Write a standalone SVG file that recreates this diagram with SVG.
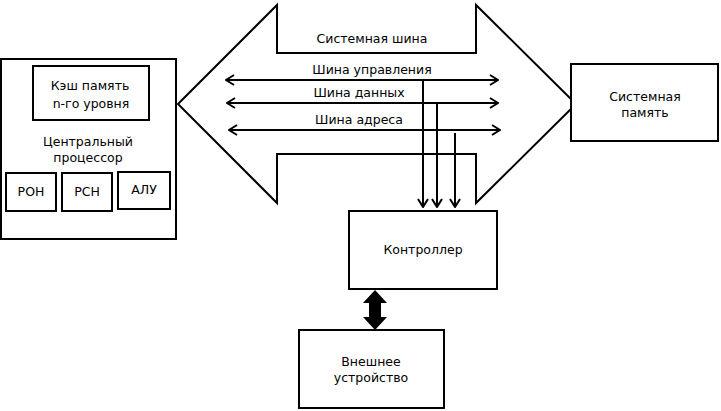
<svg xmlns="http://www.w3.org/2000/svg" width="721" height="411" viewBox="0 0 721 411">
<style>
.box{fill:#fff;stroke:#000;stroke-width:2}
.ln{fill:none;stroke:#000;stroke-width:2}
text{font-family:"DejaVu Sans","Liberation Sans",sans-serif;font-size:12.5px;fill:#000;text-anchor:middle}
</style>
<defs>
<marker id="v" viewBox="0 0 10 12" refX="9" refY="6" markerWidth="10" markerHeight="12" markerUnits="userSpaceOnUse" orient="auto-start-reverse">
<path d="M1,1 L9,6 L1,11" fill="none" stroke="#000" stroke-width="2"/>
</marker>
</defs>
<rect width="721" height="411" fill="#fff"/>
<g id="bus">
<polygon class="box" points="178,104 277,5 277,53 476,53 476,5 576,104 476,203 476,154 277,154 277,203"/>
<text x="372" y="43">Системная шина</text>
</g>
<g id="cpu">
<rect class="box" x="1" y="59" width="175" height="180"/>
<text x="88" y="146">Центральный</text>
<text x="88" y="162">процессор</text>
</g>
<g id="cache">
<rect class="box" x="33" y="66" width="116" height="54"/>
<text x="90" y="90">Кэш память</text>
<text x="91" y="108">n-го уровня</text>
</g>
<g id="ron">
<rect class="box" x="6" y="173" width="50" height="38"/>
<text x="31" y="196">РОН</text>
</g>
<g id="rsn">
<rect class="box" x="62" y="173" width="50" height="38"/>
<text x="87" y="196">РСН</text>
</g>
<g id="alu">
<rect class="box" x="118" y="172" width="52" height="37"/>
<text x="144" y="194">АЛУ</text>
</g>
<g id="memory">
<rect class="box" x="571" y="64" width="147" height="77"/>
<text x="645" y="101">Системная</text>
<text x="645" y="117">память</text>
</g>
<g id="controller">
<rect class="box" x="349" y="211" width="148" height="78"/>
<text x="423" y="254">Контроллер</text>
</g>
<g id="device">
<rect class="box" x="299" y="330" width="145" height="78"/>
<text x="371" y="366">Внешнее</text>
<text x="371" y="382">устройство</text>
</g>
<g id="connectors">
<line class="ln" x1="226" y1="80" x2="498" y2="80" marker-start="url(#v)" marker-end="url(#v)"/>
<text x="372" y="74">Шина управления</text>
<line class="ln" x1="227" y1="103" x2="498" y2="103" marker-start="url(#v)" marker-end="url(#v)"/>
<text x="359" y="97">Шина данных</text>
<line class="ln" x1="229" y1="130" x2="500" y2="130" marker-start="url(#v)" marker-end="url(#v)"/>
<text x="359" y="124">Шина адреса</text>
<line class="ln" x1="423" y1="80" x2="423" y2="207" marker-end="url(#v)"/>
<line class="ln" x1="437" y1="103" x2="437" y2="207" marker-end="url(#v)"/>
<line class="ln" x1="455" y1="133" x2="455" y2="207" marker-end="url(#v)"/>
<polygon points="375,290 387,303 381,303 381,317 387,317 375,330 363,317 369,317 369,303 363,303" fill="#000"/>
</g>
</svg>
